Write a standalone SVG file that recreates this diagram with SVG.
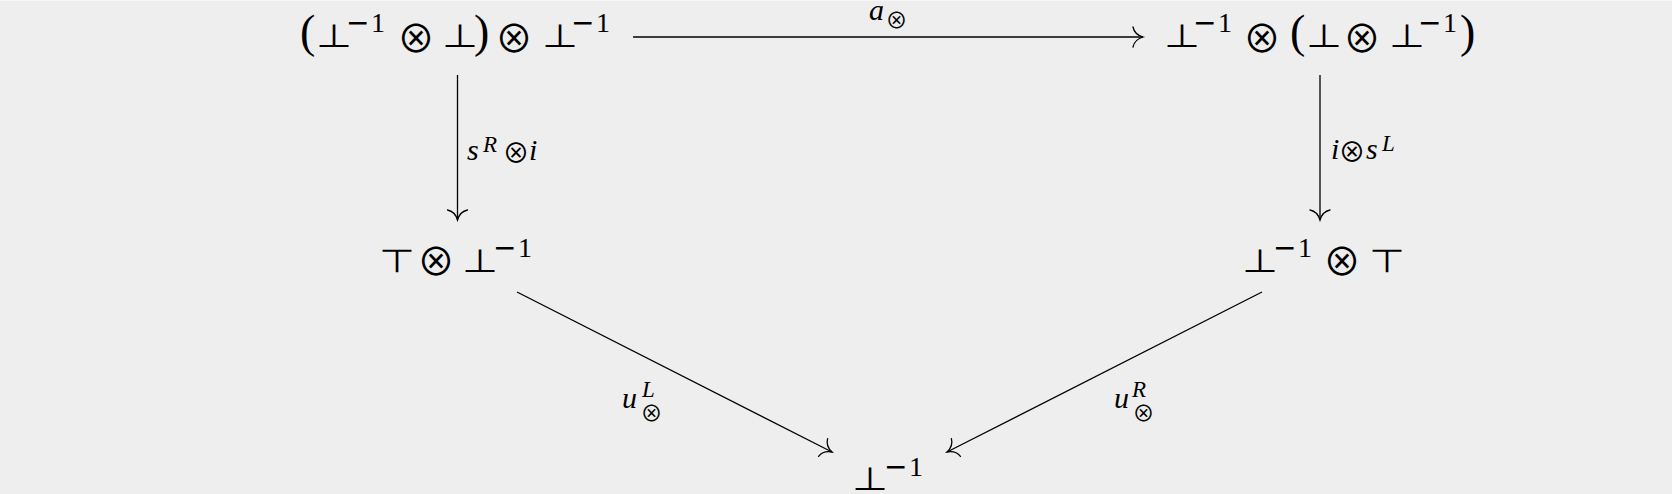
<svg xmlns="http://www.w3.org/2000/svg" width="1672" height="494" viewBox="0 0 1672 494">
<style>
.bg{fill:#eeeeee}
.m{font-family:"DejaVu Sans",sans-serif;font-size:32px;fill:#000}
.o{font-family:"Noto Sans CJK JP","DejaVu Sans",sans-serif;font-size:38px;fill:#000}
.p{font-family:"Liberation Serif","DejaVu Serif",serif;font-size:46px;fill:#000}
.sup{font-family:"Liberation Serif","DejaVu Serif",serif;font-size:28px;fill:#000}
.mn{font-family:"DejaVu Sans",sans-serif;font-size:28px}
.it{font-family:"Liberation Serif","DejaVu Serif",serif;font-style:italic;font-size:30px;fill:#000}
.is{font-family:"Liberation Serif","DejaVu Serif",serif;font-style:italic;font-size:23px;fill:#000}
.ms{font-family:"Noto Sans CJK JP","DejaVu Sans",sans-serif;font-size:27px;fill:#000}
.ml{font-family:"Noto Sans CJK JP","DejaVu Sans",sans-serif;font-size:22px;fill:#000}
.e{stroke:#000;stroke-width:1.3;fill:none;marker-end:url(#to)}
</style>
<defs>
<marker id="to" markerUnits="userSpaceOnUse" markerWidth="24" markerHeight="24" viewBox="-12 -12 24 24" refX="0" refY="0" orient="auto">
<path d="M -10,-10 Q -8.5,-2.5 0,0 Q -8.5,2.5 -10,10" fill="none" stroke="#000" stroke-width="1.3" stroke-linecap="round"/>
</marker>
</defs>
<rect class="bg" x="0" y="0" width="1672" height="494"/>
<line x1="0" y1="0.5" x2="1672" y2="0.5" stroke="#f6f6f6" stroke-width="1"/>

<g id="connectors">
<g id="e-top"><line class="e" x1="633" y1="37" x2="1143" y2="37"/>
<text class="it" x="869" y="20">a</text><text class="ml" x="885.5" y="27.5">⊗</text></g>
<g id="e-left"><line class="e" x1="457.5" y1="75" x2="457.5" y2="220"/>
<text class="it" x="467" y="160">s</text><text class="is" x="483" y="152">R</text><text class="ms" x="502.5" y="163">⊗</text><text class="it" x="529" y="160">i</text></g>
<g id="e-right"><line class="e" x1="1320" y1="75" x2="1320" y2="220"/>
<text class="it" x="1331" y="159">i</text><text class="ms" x="1338.5" y="161.5">⊗</text><text class="it" x="1366" y="159">s</text><text class="is" x="1382" y="151">L</text></g>
<g id="e-bl"><line class="e" x1="517" y1="292" x2="832" y2="452"/>
<text class="it" x="622" y="408">u</text><text class="is" x="642" y="397">L</text><text class="ml" x="640.5" y="421">⊗</text></g>
<g id="e-br"><line class="e" x1="1262" y1="292" x2="947" y2="452"/>
<text class="it" x="1114" y="408">u</text><text class="is" x="1132" y="397">R</text><text class="ml" x="1132.5" y="421">⊗</text></g>
</g>

<g id="n-tl">
<text class="p" x="300" y="47">(</text>
<text class="m" x="316" y="47" textLength="36" lengthAdjust="spacingAndGlyphs">⊥</text>
<text class="sup" y="32"><tspan class="mn" x="346">−</tspan><tspan x="371">1</tspan></text>
<text class="o" x="397" y="51.5">⊗</text>
<text class="m" x="442" y="47" textLength="36" lengthAdjust="spacingAndGlyphs">⊥</text>
<text class="p" x="474" y="47">)</text>
<text class="o" x="495" y="51.5">⊗</text>
<text class="m" x="542" y="47" textLength="36" lengthAdjust="spacingAndGlyphs">⊥</text>
<text class="sup" y="32"><tspan class="mn" x="571">−</tspan><tspan x="596">1</tspan></text>
</g>

<g id="n-tr">
<text class="m" x="1164" y="47" textLength="36" lengthAdjust="spacingAndGlyphs">⊥</text>
<text class="sup" y="32"><tspan class="mn" x="1193">−</tspan><tspan x="1218">1</tspan></text>
<text class="o" x="1243" y="51.5">⊗</text>
<text class="p" x="1290" y="47">(</text>
<text class="m" x="1306" y="47" textLength="36" lengthAdjust="spacingAndGlyphs">⊥</text>
<text class="o" x="1343" y="51.5">⊗</text>
<text class="m" x="1389" y="47" textLength="36" lengthAdjust="spacingAndGlyphs">⊥</text>
<text class="sup" y="32"><tspan class="mn" x="1418">−</tspan><tspan x="1443">1</tspan></text>
<text class="p" x="1460" y="47">)</text>
</g>

<g id="n-ml">
<text class="m" x="379" y="272" textLength="36" lengthAdjust="spacingAndGlyphs">⊤</text>
<text class="o" x="417" y="274.5">⊗</text>
<text class="m" x="462" y="272" textLength="36" lengthAdjust="spacingAndGlyphs">⊥</text>
<text class="sup" y="257"><tspan class="mn" x="493">−</tspan><tspan x="518">1</tspan></text>
</g>

<g id="n-mr">
<text class="m" x="1242" y="272" textLength="36" lengthAdjust="spacingAndGlyphs">⊥</text>
<text class="sup" y="257"><tspan class="mn" x="1273">−</tspan><tspan x="1298">1</tspan></text>
<text class="o" x="1323" y="274.5">⊗</text>
<text class="m" x="1369" y="272" textLength="36" lengthAdjust="spacingAndGlyphs">⊤</text>
</g>

<g id="n-b">
<text class="m" x="852" y="490" textLength="36" lengthAdjust="spacingAndGlyphs">⊥</text>
<text class="sup" y="476"><tspan class="mn" x="884">−</tspan><tspan x="909">1</tspan></text>
</g>
</svg>
